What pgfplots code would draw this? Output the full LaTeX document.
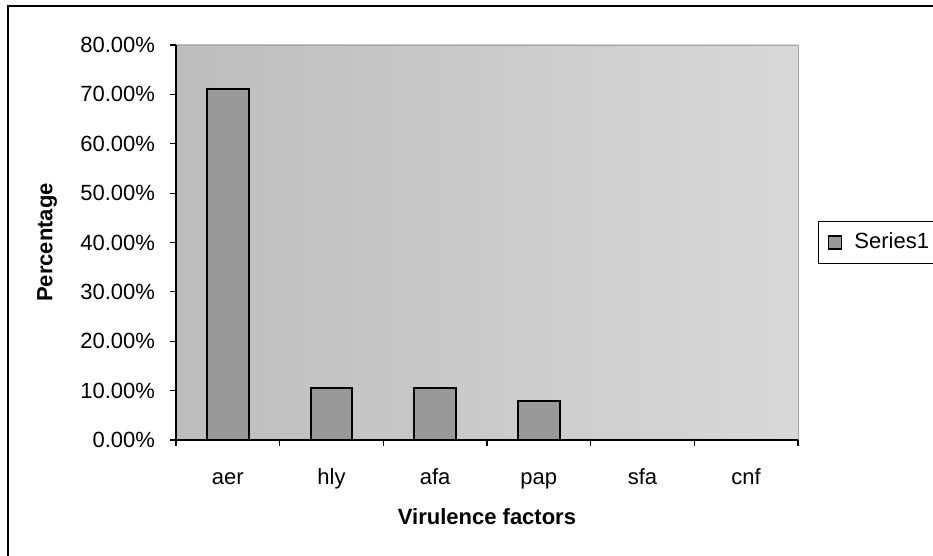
\documentclass[border=0pt]{standalone}
\usepackage{pgfplots}
\pgfplotsset{compat=1.18}
\usepackage{fontspec}
\setmainfont{Liberation Sans}
\definecolor{barfill}{gray}{0.60}
\definecolor{bgleft}{gray}{0.74}
\definecolor{bgright}{gray}{0.85}
\begin{document}
\begin{tikzpicture}
\useasboundingbox (0,0) rectangle (466.5pt,278pt);
\draw[line width=0.75pt] (4pt,-2pt) -- (4pt,275pt) -- (468pt,275pt);
\begin{axis}[
  at={(88pt,58pt)}, anchor=south west,
  width=311pt, height=197.5pt, scale only axis,
  ybar, bar width=0.4,
  xmin=-0.5, xmax=5.5, ymin=0, ymax=80,
  xtick={0,...,5}, xticklabels={aer,hly,afa,pap,sfa,cnf},
  minor xtick={-0.5,0.5,1.5,2.5,3.5,4.5,5.5},
  ytick={0,10,...,80},
  axis x line*=bottom, axis y line*=left,
  axis line style={black, line width=0.8pt},
  tick align=outside,
  major tick length=3pt, minor tick length=3pt,
  major x tick style={draw=none},
  minor x tick style={black, line width=0.6pt},
  major y tick style={black, line width=0.6pt},
  /pgf/number format/assume math mode=true,
  tick label style={font=\fontsize{11}{13}\selectfont},
  yticklabel={\pgfmathprintnumber[fixed,fixed zerofill,precision=2]{\tick}\%},
  yticklabel style={anchor=east, xshift=-4pt},
  xticklabel style={anchor=base, yshift=-19.5pt},
  xlabel={Virulence factors},
  ylabel={Percentage},
  xlabel style={at={(axis description cs:0.5,-0.195)}, anchor=center, font=\bfseries\fontsize{11}{13}\selectfont},
  ylabel style={at={(axis description cs:-0.207,0.5)}, anchor=center, font=\bfseries\fontsize{11}{13}\selectfont},
  axis background/.style={left color=bgleft, right color=bgright, draw=gray!70},
  legend style={at={(1,0.5)}, anchor=west, xshift=10pt, draw=black, line width=0.5pt,
    font=\fontsize{11}{13}\selectfont, inner xsep=3pt, inner ysep=4pt, legend cell align=left},
  legend image code/.code={\path[draw=none, fill=none] (0pt,0pt) -- (13pt,0pt);\draw[fill=barfill, draw=black, line width=0.9pt] (2pt,-3.25pt) rectangle (8.5pt,3.25pt);},
]
\addplot[fill=barfill, draw=black, line width=1pt] coordinates {
  (0,71.1) (1,10.5) (2,10.5) (3,7.9) (4,0) (5,0)
};
\addlegendentry{Series1}
\end{axis}
\end{tikzpicture}
\end{document}
